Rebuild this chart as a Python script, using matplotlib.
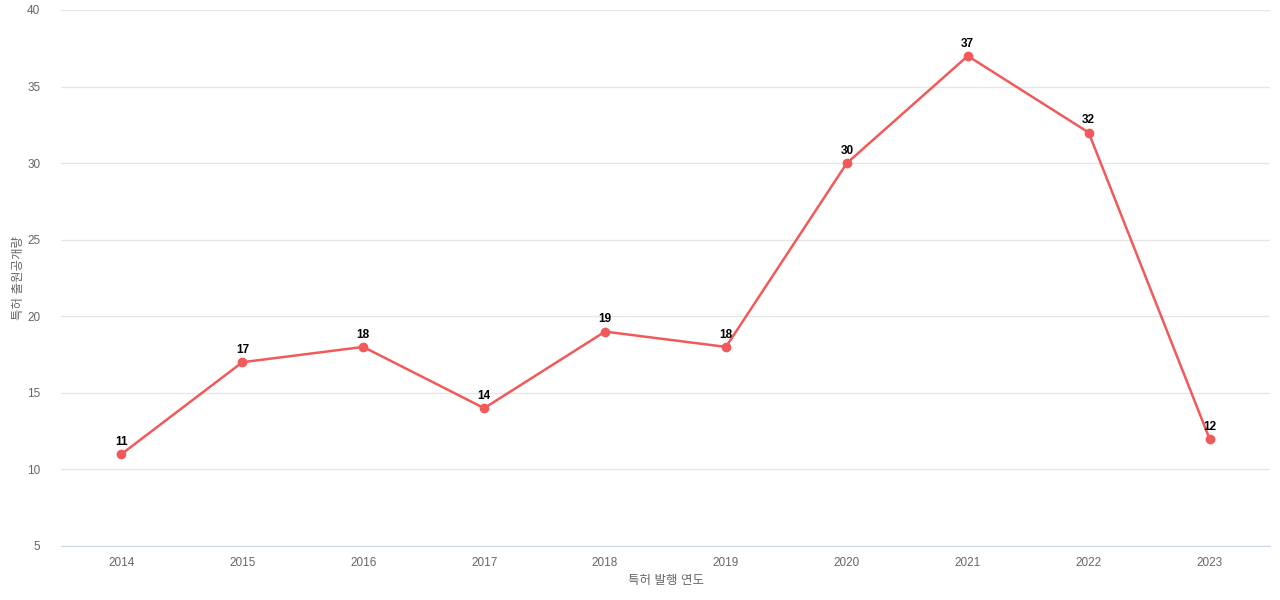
import matplotlib
matplotlib.use("Agg")
import matplotlib.pyplot as plt

years = ["2014","2015","2016","2017","2018","2019","2020","2021","2022","2023"]
values = [11,17,18,14,19,18,30,37,32,12]

plt.rcParams['font.family'] = ['Liberation Sans', 'Noto Sans CJK KR', 'DejaVu Sans']
fig = plt.figure(figsize=(12.8,6), dpi=100)
ax = fig.add_axes([61/1280, 54/600, 1209/1280, 536/600])
x = list(range(len(years)))
color = "#f05a5a"
ax.plot(x, values, color=color, lw=1.8, marker="o", ms=6, zorder=3)
for xi, v in zip(x, values):
    ax.text(xi, v + 0.4, str(v), ha="center", va="bottom", fontsize=8.5, fontweight="bold", color="black")
ax.set_ylim(5, 40)
ax.set_yticks(range(5, 41, 5))
ax.set_xlim(-0.5, len(years) - 0.5)
ax.set_xticks(x)
ax.set_xticklabels(years)
ax.grid(axis="y", color="#e6e6e6", lw=1)
ax.set_axisbelow(True)
for s in ["top", "right", "left"]:
    ax.spines[s].set_visible(False)
ax.spines["bottom"].set_color("#ccd6eb")
ax.tick_params(axis="both", length=0, labelsize=8.5, colors="#666666", pad=8)
ax.tick_params(axis="y", pad=15)
ax.set_xlabel("특허 발행 연도", fontsize=9, color="#666666", labelpad=4)
ax.set_ylabel("특허 출원공개량", fontsize=9, color="#666666", labelpad=5)
ax.yaxis.set_label_coords(-36/1209, 0.5)
fig.savefig("out.png", dpi=100)
